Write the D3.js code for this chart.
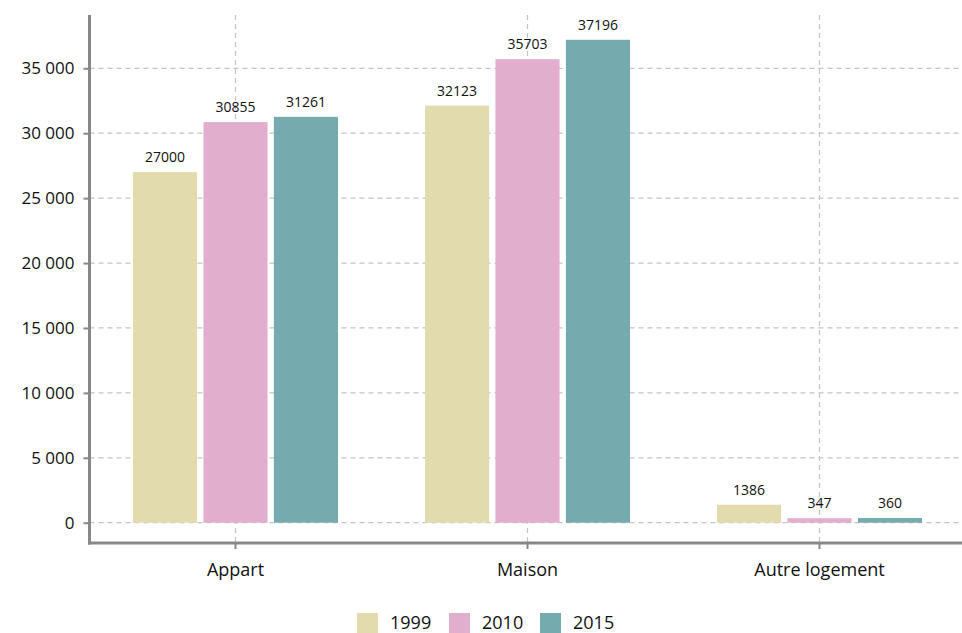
<!DOCTYPE html>
<html><head><meta charset="utf-8">
<script src="https://cdn.jsdelivr.net/npm/d3@7/dist/d3.min.js"></script>
<style>body{margin:0;background:#fff}text{font-family:"Open Sans","Noto Sans",sans-serif;fill:#111}</style>
</head><body><svg id="c" width="962" height="633"></svg>
<script>
const categories = ["Appart", "Maison", "Autre logement"];
const years = ["1999", "2010", "2015"];
const values1999 = [27000, 32123, 1386];
const values2010 = [30855, 35703, 347];
const values2015 = [31261, 37196, 360];
const yTicks = [0, 5000, 10000, 15000, 20000, 25000, 30000, 35000];
const colors = ["#e1dbad", "#e1aecd", "#75aaae"];

(function () {
const series = [values1999, values2010, values2015];
const svg = d3.select("#c");
const axisX = 89.5, plotTop = 15, plotBottom = 543;
const y = d3.scaleLinear().domain([-1563, 39105]).range([plotBottom, plotTop]);
const x = d3.scaleBand().domain(categories).range([axisX, 965.5]).paddingInner(0).paddingOuter(0);
const xs = d3.scaleBand().domain(years).range([0, 205]).paddingInner(0.09);
const off = (x.bandwidth() - 205) / 2;

// grid
const g = svg.append("g");
g.selectAll(".hg").data(yTicks).join("line")
  .attr("x1", axisX).attr("x2", 962).attr("y1", d => y(d)).attr("y2", d => y(d))
  .attr("stroke", "#c4c4c4").attr("stroke-width", 1.2).attr("stroke-dasharray", "5,4");
g.selectAll(".vg").data(categories).join("line")
  .attr("x1", d => x(d) + x.bandwidth() / 2).attr("x2", d => x(d) + x.bandwidth() / 2)
  .attr("y1", plotTop).attr("y2", plotBottom)
  .attr("stroke", "#c4c4c4").attr("stroke-width", 1.2).attr("stroke-dasharray", "5,4");

// bars
categories.forEach((c, ci) => {
  years.forEach((yr, si) => {
    const v = series[si][ci];
    const bx = x(c) + off + xs(yr);
    svg.append("rect").attr("x", bx).attr("width", xs.bandwidth())
      .attr("y", y(v)).attr("height", y(0) - y(v)).attr("fill", colors[si]);
    svg.append("text").attr("x", bx + xs.bandwidth() / 2).attr("y", y(v) - 10)
      .attr("text-anchor", "middle").attr("font-size", 14).text(v);
  });
});

// y axis
const yAxis = d3.axisLeft(y).tickValues(yTicks).tickSize(6).tickPadding(9)
  .tickFormat(d => d3.format(",")(d).replace(/,/g, " "));
const ya = svg.append("g").attr("transform", `translate(${axisX},0)`).call(yAxis);
ya.select(".domain").remove();
ya.selectAll("line").attr("stroke", "#888").attr("stroke-width", 2);
ya.selectAll("text").attr("font-size", 17).attr("fill", "#111").style("font-family", '"Open Sans",sans-serif');
svg.append("line").attr("x1", axisX).attr("x2", axisX).attr("y1", plotTop).attr("y2", plotBottom + 1.5)
  .attr("stroke", "#888").attr("stroke-width", 3);

// x axis
const xAxis = d3.axisBottom(x).tickSize(6).tickPadding(14);
const xa = svg.append("g").attr("transform", `translate(0,${plotBottom})`).call(xAxis);
xa.select(".domain").remove();
xa.selectAll("line").attr("stroke", "#888").attr("stroke-width", 2);
xa.selectAll("text").attr("font-size", 18).attr("fill", "#111").style("font-family", '"Open Sans",sans-serif');
svg.append("line").attr("x1", axisX - 1.5).attr("x2", 962).attr("y1", plotBottom).attr("y2", plotBottom)
  .attr("stroke", "#888").attr("stroke-width", 3);

// legend
const lx = [357, 449, 540];
years.forEach((yr, i) => {
  svg.append("rect").attr("x", lx[i]).attr("y", 613).attr("width", 21).attr("height", 20).attr("fill", colors[i]);
  svg.append("text").attr("x", lx[i] + 33).attr("y", 629).attr("font-size", 18).text(yr);
});
})();
</script></body></html>
